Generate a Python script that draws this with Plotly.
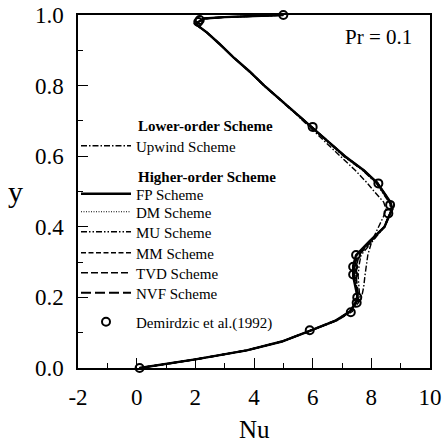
import plotly.graph_objects as go

# ---------------- data ----------------
y_grid = [0.0, 0.01, 0.025, 0.05, 0.075, 0.105, 0.135, 0.16, 0.19, 0.205, 0.23, 0.26,
          0.29, 0.32, 0.36, 0.40, 0.43, 0.45, 0.47, 0.50, 0.525, 0.56, 0.60, 0.64, 0.68,
          0.72, 0.76, 0.80, 0.84, 0.88, 0.92, 0.95, 0.975, 0.99, 0.994, 0.996, 1.0]

nu_upwind = [0.1, 0.9, 2.05, 3.75, 4.95, 5.9, 6.85, 7.35, 7.6, 7.68, 7.74, 7.78, 7.82, 7.88,
             8.02, 8.25, 8.42, 8.5, 8.42, 8.1, 7.85, 7.45, 6.95, 6.45, 5.95, 5.42, 4.88,
             4.33, 3.83, 3.3, 2.8, 2.4, 2.0, 2.3, 3.0, 4.0, 5.0]
nu_fp = [0.1, 0.9, 2.05, 3.75, 4.95, 5.9, 6.8, 7.27, 7.5, 7.52, 7.45, 7.38, 7.38, 7.48,
         7.95, 8.45, 8.6, 8.72, 8.65, 8.4, 8.2, 7.75, 7.1, 6.55, 6.0, 5.45, 4.9, 4.35,
         3.85, 3.3, 2.8, 2.4, 2.0, 2.3, 3.0, 4.0, 5.0]
nu_dm = [0.1, 0.9, 2.05, 3.75, 4.95, 5.9, 6.8, 7.28, 7.52, 7.55, 7.5, 7.45, 7.46, 7.55,
         8.0, 8.45, 8.62, 8.7, 8.62, 8.38, 8.18, 7.72, 7.08, 6.54, 6.0, 5.45, 4.9, 4.35,
         3.85, 3.3, 2.8, 2.4, 2.0, 2.3, 3.0, 4.0, 5.0]
nu_mu = [0.1, 0.9, 2.05, 3.75, 4.95, 5.9, 6.82, 7.3, 7.55, 7.6, 7.58, 7.55, 7.58, 7.65,
         8.05, 8.45, 8.6, 8.68, 8.6, 8.35, 8.15, 7.7, 7.05, 6.52, 6.0, 5.45, 4.9, 4.35,
         3.85, 3.3, 2.8, 2.4, 2.0, 2.3, 3.0, 4.0, 5.0]
nu_mm = [0.1, 0.9, 2.05, 3.75, 4.95, 5.9, 6.8, 7.27, 7.5, 7.53, 7.47, 7.4, 7.42, 7.5,
         7.97, 8.45, 8.6, 8.7, 8.64, 8.4, 8.2, 7.74, 7.1, 6.55, 6.0, 5.45, 4.9, 4.35,
         3.85, 3.3, 2.8, 2.4, 2.0, 2.3, 3.0, 4.0, 5.0]
nu_tvd = [0.1, 0.9, 2.05, 3.75, 4.95, 5.9, 6.81, 7.28, 7.52, 7.56, 7.52, 7.48, 7.5, 7.58,
          8.02, 8.44, 8.6, 8.7, 8.62, 8.38, 8.18, 7.72, 7.08, 6.54, 6.0, 5.45, 4.9, 4.35,
          3.85, 3.3, 2.8, 2.4, 2.0, 2.3, 3.0, 4.0, 5.0]
nu_nvf = [0.1, 0.9, 2.05, 3.75, 4.95, 5.9, 6.8, 7.27, 7.5, 7.53, 7.48, 7.42, 7.44, 7.52,
          7.98, 8.45, 8.6, 8.71, 8.64, 8.4, 8.2, 7.74, 7.1, 6.55, 6.0, 5.45, 4.9, 4.35,
          3.85, 3.3, 2.8, 2.4, 2.0, 2.3, 3.0, 4.0, 5.0]

dem_nu = [0.1, 5.9, 7.3, 7.5, 7.52, 7.38, 7.38, 7.48, 8.58, 8.64, 8.24, 6.0, 2.1, 2.15, 5.0]
dem_y = [0.0, 0.107, 0.158, 0.185, 0.2, 0.265, 0.287, 0.32, 0.438, 0.462, 0.523, 0.683,
         0.98, 0.986, 1.0]

x_ticks = [-2, 0, 2, 4, 6, 8, 10]
y_ticks = [0.0, 0.2, 0.4, 0.6, 0.8, 1.0]

FONT = "Liberation Serif, Times New Roman, serif"

# plot-area geometry (pixels) used to place legends / annotations
L, R, T, B = 78, 430, 15, 368
def px(xp):
    return (xp - L) / (R - L)
def py(yp):
    return (B - yp) / (B - T)

fig = go.Figure()

series = [
    ("Upwind Scheme", nu_upwind, dict(color="black", width=1.4, dash="6px,2px,1.5px,2px"), 146),
    ("FP Scheme", nu_fp, dict(color="black", width=2.4, dash="solid"), 194),
    ("DM Scheme", nu_dm, dict(color="black", width=1.2, dash="1px,1.5px"), 212),
    ("MU Scheme", nu_mu, dict(color="black", width=1.4, dash="6px,2px,1.5px,2px,1.5px,2px"), 232),
    ("MM Scheme", nu_mm, dict(color="black", width=1.6, dash="5px,2.5px"), 253),
    ("TVD Scheme", nu_tvd, dict(color="black", width=1.6, dash="7px,3px"), 273),
    ("NVF Scheme", nu_nvf, dict(color="black", width=1.9, dash="10px,4px"), 293),
]

leg_common = dict(font=dict(family=FONT, size=15, color="black"), bgcolor="rgba(0,0,0,0)",
                  borderwidth=0, xanchor="left", yanchor="middle", itemwidth=50,
                  x=px(76))
legends = {}
for i, (name, xs, ln, ypix) in enumerate(series):
    key = "legend" if i == 0 else f"legend{i + 1}"
    fig.add_trace(go.Scatter(x=xs, y=y_grid, mode="lines", name=name, line=ln,
                             legend=key))
    legends[key] = dict(y=py(ypix), **leg_common)

dem_key = f"legend{len(series) + 1}"
fig.add_trace(go.Scatter(x=dem_nu, y=dem_y, mode="markers", name="Demirdzic et al.(1992)",
                         marker=dict(symbol="circle-open", size=8, color="black",
                                     line=dict(width=2, color="black")),
                         cliponaxis=False, legend=dem_key))
legends[dem_key] = dict(y=py(322), **leg_common)

fig.update_layout(
    width=442, height=445,
    margin=dict(l=L, r=442 - R, t=T, b=445 - B, autoexpand=False),
    paper_bgcolor="white", plot_bgcolor="white",
    font=dict(family=FONT, color="black"),
    showlegend=True,
    xaxis=dict(range=[-2, 10], tickvals=x_ticks, ticktext=[str(v) for v in x_ticks],
               ticks="inside", ticklen=10, tickwidth=1.3, tickcolor="black",
               minor=dict(dtick=1, ticks="inside", ticklen=5, tickwidth=1, tickcolor="black"),
               showline=True, linecolor="black", linewidth=1.5, mirror=True,
               showgrid=False, zeroline=False, ticklabelstandoff=8, automargin=False,
               tickfont=dict(family=FONT, size=23, color="black")),
    yaxis=dict(range=[0, 1.0], tickvals=y_ticks, ticktext=[f"{v:.1f}" for v in y_ticks],
               ticks="inside", ticklen=10, tickwidth=1.3, tickcolor="black",
               minor=dict(dtick=0.1, ticks="inside", ticklen=5, tickwidth=1, tickcolor="black"),
               showline=True, linecolor="black", linewidth=1.5, mirror=True,
               showgrid=False, zeroline=False, ticklabelstandoff=8, automargin=False,
               tickfont=dict(family=FONT, size=23, color="black")),
    annotations=[
        dict(text="Nu", x=px(254), y=py(429), xref="paper", yref="paper", showarrow=False,
             xanchor="center", yanchor="middle", font=dict(family=FONT, size=25, color="black")),
        dict(text="y", x=px(15), y=py(191), xref="paper", yref="paper", showarrow=False,
             xanchor="center", yanchor="middle", font=dict(family=FONT, size=30, color="black")),
        dict(text="Pr = 0.1", x=px(378), y=py(37), xref="paper", yref="paper",
             showarrow=False, xanchor="center", yanchor="middle",
             font=dict(family=FONT, size=21, color="black")),
        dict(text="<b>Lower-order Scheme</b>", x=px(136), y=py(126), xref="paper",
             yref="paper", showarrow=False, xanchor="left", yanchor="middle",
             font=dict(family=FONT, size=15, color="black")),
        dict(text="<b>Higher-order Scheme</b>", x=px(136), y=py(177), xref="paper",
             yref="paper", showarrow=False, xanchor="left", yanchor="middle",
             font=dict(family=FONT, size=15, color="black")),
    ],
    **legends,
)

fig.write_html("out.html",
               config={"displayModeBar": False},
               post_script="document.body.style.margin='0';"
                           "document.body.style.overflow='hidden';")
